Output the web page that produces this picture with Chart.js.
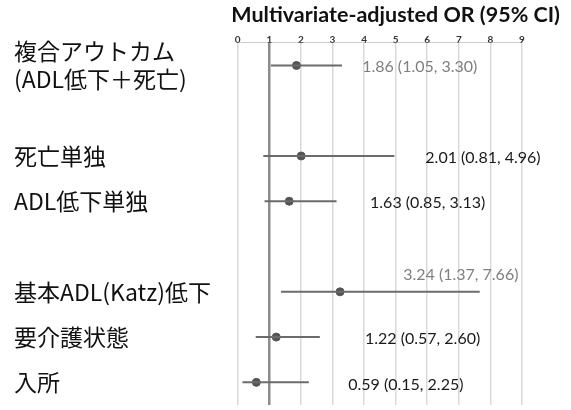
<!DOCTYPE html>
<html>
<head>
<meta charset="utf-8">
<script src="https://cdn.jsdelivr.net/npm/chart.js@4"></script>
<style>
  html, body { margin: 0; padding: 0; background: #ffffff; }
  canvas { display: block; }
</style>
</head>
<body>
<canvas id="forest" width="571" height="410"></canvas>
<script>
// Outcomes (blank entries are spacer rows between groups)
const outcomes = [
  ['複合アウトカム', '(ADL低下＋死亡)'],
  '',
  '死亡単独',
  'ADL低下単独',
  '',
  '基本ADL(Katz)低下',
  '要介護状態',
  '入所'
];
// Multivariate-adjusted odds ratios with 95% confidence limits
const oddsRatio = [1.86, null, 2.01, 1.63, null, 3.24, 1.22, 0.59];
const ciLower   = [1.05, null, 0.81, 0.85, null, 1.37, 0.57, 0.15];
const ciUpper   = [3.30, null, 4.96, 3.13, null, 7.66, 2.60, 2.25];
const axisMin = 0;
const axisMax = 9;

// Where each value annotation sits (x in OR units, vertical shift in px) and its colour
const noteAtOR  = [3.94, null, 5.94, 4.19, null, 5.24, 4.03, 3.50];
const noteShift = [1, 0, 2, 2, 0, -17, 2, 2];
const noteColor = ['#7f7f7f', null, '#1a1a1a', '#1a1a1a', null, '#7f7f7f', '#1a1a1a', '#1a1a1a'];

const rows = oddsRatio.map((v, i) => i).filter(i => oddsRatio[i] !== null);

const ciDatasets = rows.map(i => ({
  type: 'line',
  data: [{ x: ciLower[i], y: i }, { x: ciUpper[i], y: i }],
  borderColor: '#6b6b6b',
  borderWidth: 2,
  pointRadius: 0,
  pointHoverRadius: 0,
  fill: false,
  xAxisID: 'x',
  yAxisID: 'y'
}));

const pointDataset = {
  type: 'scatter',
  data: rows.map(i => ({ x: oddsRatio[i], y: i })),
  backgroundColor: '#555555',
  borderColor: '#555555',
  pointStyle: 'circle',
  pointRadius: 4,
  pointHoverRadius: 4,
  xAxisID: 'x',
  yAxisID: 'y'
};

const fmt = v => v.toFixed(2);

const valueNotes = {
  id: 'valueNotes',
  afterDatasetsDraw(chart) {
    const { ctx } = chart;
    const xs = chart.scales.x, ys = chart.scales.y;
    ctx.save();
    ctx.font = '16px Lato, "Liberation Sans", sans-serif';
    ctx.textAlign = 'left';
    ctx.textBaseline = 'middle';
    rows.forEach(i => {
      const text = fmt(oddsRatio[i]) + ' (' + fmt(ciLower[i]) + ', ' + fmt(ciUpper[i]) + ')';
      ctx.fillStyle = noteColor[i];
      ctx.fillText(text, xs.getPixelForValue(noteAtOR[i]), ys.getPixelForValue(i) + noteShift[i]);
    });
    ctx.restore();
  }
};

new Chart(document.getElementById('forest'), {
  type: 'scatter',
  data: { datasets: [...ciDatasets, pointDataset] },
  plugins: [valueNotes],
  options: {
    responsive: false,
    devicePixelRatio: 1,
    animation: false,
    events: [],
    layout: { padding: { left: 14, right: 11, top: 0, bottom: 0 } },
    plugins: {
      legend: { display: false },
      tooltip: { enabled: false },
      title: {
        display: true,
        text: 'Multivariate-adjusted OR (95% CI)',
        align: 'end',
        color: '#111111',
        font: { family: 'Lato, "Liberation Sans", sans-serif', size: 21.5, weight: 'bold', lineHeight: 1.2 },
        padding: { top: 2, bottom: 0 }
      }
    },
    scales: {
      x: {
        type: 'linear',
        position: 'top',
        min: axisMin,
        max: axisMax,
        afterFit: s => { s.height = 15; s.paddingLeft = 0; s.paddingRight = 0; },
        ticks: {
          stepSize: 1,
          padding: -3,
          color: '#333333',
          font: { family: 'Lato, "Liberation Sans", sans-serif', size: 10, weight: 'bold' }
        },
        grid: {
          drawTicks: false,
          color: c => (c.tick && c.tick.value === 1 ? '#8c8c8c' : '#d9d9d9'),
          lineWidth: c => (c.tick && c.tick.value === 1 ? 2.5 : 1.5)
        },
        border: { display: true, color: '#d0d0d0', width: 1 }
      },
      y: {
        type: 'linear',
        position: 'left',
        reverse: true,
        min: -0.5,
        max: outcomes.length - 0.5,
        afterBuildTicks: s => { s.ticks = outcomes.map((_, i) => ({ value: i })); },
        afterFit: s => { s.width = 223.7; s.paddingTop = 0; s.paddingBottom = 0; },
        ticks: {
          autoSkip: false,
          crossAlign: 'far',
          padding: 0,
          color: '#111111',
          font: { family: '"Noto Sans CJK JP", "Noto Sans", sans-serif', size: 23, lineHeight: 1.22 },
          callback: v => outcomes[v]
        },
        grid: { display: false, drawTicks: false },
        border: { display: false }
      },
      gutter: {
        type: 'linear',
        position: 'right',
        afterFit: s => { s.width = 38; },
        ticks: { display: false },
        grid: { display: false, drawTicks: false },
        border: { display: false }
      }
    }
  }
});
</script>
</body>
</html>
